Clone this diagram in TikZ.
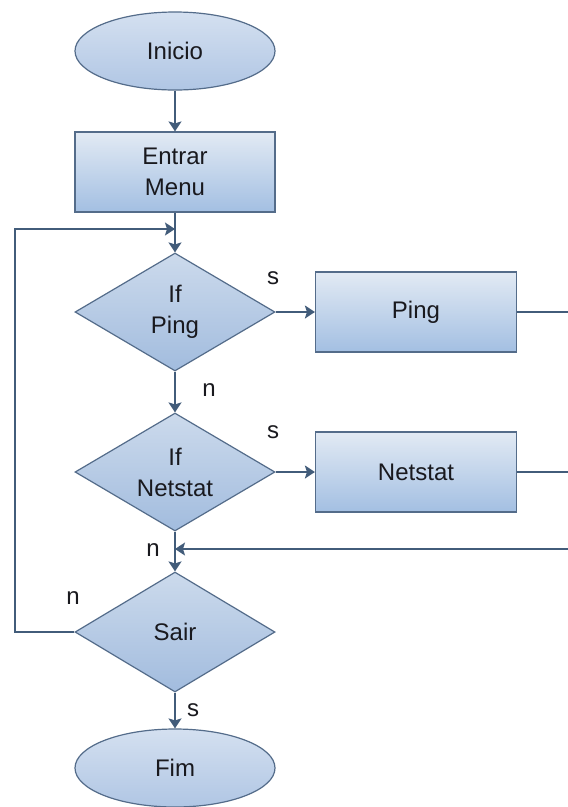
\documentclass[tikz,border=0pt]{standalone}
\usepackage{fontspec}
\setmainfont{Liberation Sans}
\usetikzlibrary{shapes.geometric,arrows.meta}
\definecolor{linec}{RGB}{66,92,122}
\definecolor{edgec}{RGB}{84,108,138}
\definecolor{recttop}{RGB}{226,234,244}
\definecolor{rectbot}{RGB}{163,191,226}
\definecolor{diatop}{RGB}{204,218,236}
\definecolor{diabot}{RGB}{162,188,222}
\definecolor{elltop}{RGB}{212,224,240}
\definecolor{ellbot}{RGB}{176,198,228}
\definecolor{txtc}{RGB}{25,25,30}
\begin{document}
\begin{tikzpicture}[x=1pt,y=-1pt,
  every node/.style={font=\fontsize{24}{31}\selectfont, text=txtc},
  term/.style={ellipse, draw=edgec, line width=1.2pt, top color=elltop, bottom color=ellbot,
    minimum width=200pt, minimum height=78pt, inner sep=0pt},
  procbox/.style={rectangle, draw=edgec, line width=1.2pt, top color=recttop, bottom color=rectbot,
    minimum width=201pt, minimum height=80pt, inner sep=0pt, align=center},
  decide/.style={diamond, aspect=1.7, draw=edgec, line width=1.2pt, top color=diatop, bottom color=diabot,
    minimum width=200pt, minimum height=118pt, inner sep=0pt, align=center},
  lbl/.style={inner sep=0pt},
  conn/.style={draw=linec, line width=1.4pt},
  arr/.style={conn, -{Stealth[length=10pt,width=13pt,inset=2pt]}}
]
\useasboundingbox[fill=white] (0,0) rectangle (568,807);

\node[term] (inicio) at (175,51) {Inicio};
\node[procbox, minimum width=200pt] (menu) at (175,172) {Entrar\\Menu};
\node[decide] (ifping) at (175,312) {If\\Ping};
\node[procbox] (ping) at (416,312) {Ping};
\node[decide] (ifnet) at (175,472) {If\\Netstat};
\node[procbox] (netstat) at (416,472) {Netstat};
\node[decide, minimum height=120pt] (sair) at (175,632) {Sair};
\node[term] (fim) at (175,768) {Fim};

\coordinate (jtop) at (175,229);
\coordinate (jbot) at (175,549);
\coordinate (lc) at (15,632);
\coordinate (rc1) at (571,312);
\coordinate (rc2) at (571,472);
\coordinate (rc3) at (571,549);

\draw[arr] (inicio) -- (menu);
\draw[arr] (menu) -- (ifping);
\draw[arr] (sair.west) -- (lc) |- (jtop);
\draw[arr] (ifping.east) -- (ping.west);
\draw[arr] (ifping.south) -- (ifnet.north);
\draw[arr] (ifnet.east) -- (netstat.west);
\draw[arr] (ifnet.south) -- (sair.north);
\draw[arr] (sair.south) -- (fim.north);
\draw[conn] (ping.east) -- (rc1) -- (rc3);
\draw[conn] (netstat.east) -- (rc2);
\draw[arr] (rc3) -- (jbot);

\node[lbl] (s1) at (273,278) {s};
\node[lbl] (n1) at (209,390) {n};
\node[lbl] (s2) at (273,432) {s};
\node[lbl] (n2) at (153,550) {n};
\node[lbl] (n3) at (73,598) {n};
\node[lbl] (s3) at (193,710) {s};
\end{tikzpicture}
\end{document}
